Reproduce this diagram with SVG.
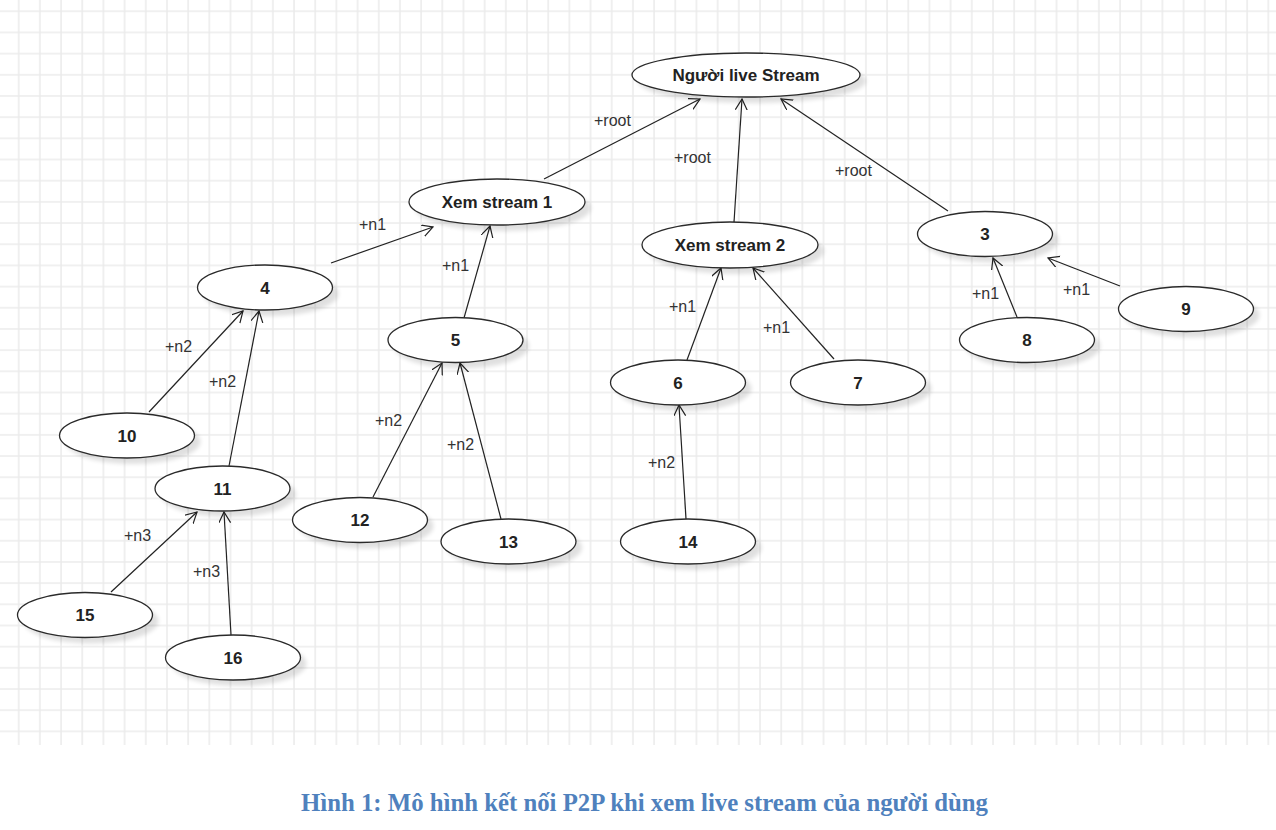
<svg xmlns="http://www.w3.org/2000/svg" width="1276" height="830" viewBox="0 0 1276 830">
<defs>
<pattern id="grid" patternUnits="userSpaceOnUse" x="17.7" y="10.3" width="21.18" height="21.18">
<path d="M1 0 V21.18 M0 1 H21.18" stroke="#ebebeb" stroke-width="1.5" fill="none"/>
</pattern>
<filter id="blur" x="-20%" y="-40%" width="140%" height="180%">
<feGaussianBlur stdDeviation="2"/>
</filter>
<marker id="arr" markerUnits="userSpaceOnUse" markerWidth="14" markerHeight="14" refX="11" refY="6" orient="auto">
<path d="M0,0 L11,6 L0,12" fill="none" stroke="#222" stroke-width="1.2"/>
</marker>
</defs>
<style>
.node ellipse.body{fill:#fff;stroke:#2a2a2a;stroke-width:1.3}
.node ellipse.shadow{fill:#000;opacity:0.12;filter:url(#blur)}
.node text{font-family:"Liberation Sans",Arial,sans-serif;font-weight:bold;font-size:17px;fill:#222;text-anchor:middle}
.edges line{stroke:#222;stroke-width:1.2;marker-end:url(#arr)}
.lbl{font-family:"Liberation Sans",Arial,sans-serif;font-size:16px;fill:#333}
.caption{font-family:"Liberation Serif","Times New Roman",serif;font-weight:bold;font-size:25px;fill:#4f81bd}
</style>
<rect x="0" y="0" width="1276" height="830" fill="#fff"/>
<rect x="0" y="0" width="1276" height="745" fill="url(#grid)"/>

<g id="edges" class="edges">
<line x1="544" y1="179" x2="700" y2="99"/>
<line x1="734" y1="222" x2="742" y2="99"/>
<line x1="948" y1="211" x2="781" y2="99"/>
<line x1="331" y1="263" x2="433" y2="227"/>
<line x1="464" y1="318" x2="490" y2="226"/>
<line x1="687" y1="360" x2="721" y2="268"/>
<line x1="834" y1="359" x2="753" y2="268"/>
<line x1="1017" y1="317" x2="993" y2="258"/>
<line x1="1120" y1="286" x2="1048" y2="258"/>
<line x1="149" y1="412" x2="243" y2="311"/>
<line x1="229" y1="466" x2="259" y2="311"/>
<line x1="373" y1="497" x2="442" y2="363"/>
<line x1="501" y1="519" x2="460" y2="363"/>
<line x1="686" y1="519" x2="679" y2="405"/>
<line x1="111" y1="592" x2="197" y2="512"/>
<line x1="231" y1="635" x2="224" y2="512"/>
</g>

<g id="edge-labels">
<text class="lbl" x="594" y="126">+root</text>
<text class="lbl" x="674" y="163">+root</text>
<text class="lbl" x="835" y="176">+root</text>
<text class="lbl" x="359" y="230">+n1</text>
<text class="lbl" x="442" y="271">+n1</text>
<text class="lbl" x="669" y="312">+n1</text>
<text class="lbl" x="763" y="333">+n1</text>
<text class="lbl" x="972" y="299">+n1</text>
<text class="lbl" x="1063" y="295">+n1</text>
<text class="lbl" x="165" y="352">+n2</text>
<text class="lbl" x="209" y="387">+n2</text>
<text class="lbl" x="375" y="426">+n2</text>
<text class="lbl" x="447" y="450">+n2</text>
<text class="lbl" x="648" y="468">+n2</text>
<text class="lbl" x="124" y="541">+n3</text>
<text class="lbl" x="193" y="577">+n3</text>
</g>

<g id="node-root" class="node"><ellipse class="shadow" cx="752" cy="81" rx="114" ry="22"/><ellipse class="body" cx="746" cy="75" rx="114" ry="22"/><text x="746" y="81">Người live Stream</text></g>
<g id="node-xs1" class="node"><ellipse class="shadow" cx="503" cy="208" rx="88" ry="23"/><ellipse class="body" cx="497" cy="202" rx="88" ry="23"/><text x="497" y="208">Xem stream 1</text></g>
<g id="node-xs2" class="node"><ellipse class="shadow" cx="736" cy="251" rx="88" ry="23"/><ellipse class="body" cx="730" cy="245" rx="88" ry="23"/><text x="730" y="251">Xem stream 2</text></g>
<g id="node-3" class="node"><ellipse class="shadow" cx="991" cy="240" rx="67.5" ry="22.5"/><ellipse class="body" cx="985" cy="234" rx="67.5" ry="22.5"/><text x="985" y="240">3</text></g>
<g id="node-4" class="node"><ellipse class="shadow" cx="271" cy="293.5" rx="67.5" ry="22.5"/><ellipse class="body" cx="265" cy="287.5" rx="67.5" ry="22.5"/><text x="265" y="293.5">4</text></g>
<g id="node-5" class="node"><ellipse class="shadow" cx="461.5" cy="346" rx="67.5" ry="22.5"/><ellipse class="body" cx="455.5" cy="340" rx="67.5" ry="22.5"/><text x="455.5" y="346">5</text></g>
<g id="node-6" class="node"><ellipse class="shadow" cx="684" cy="388.5" rx="67.5" ry="22.5"/><ellipse class="body" cx="678" cy="382.5" rx="67.5" ry="22.5"/><text x="678" y="388.5">6</text></g>
<g id="node-7" class="node"><ellipse class="shadow" cx="864" cy="388.5" rx="67.5" ry="22.5"/><ellipse class="body" cx="858" cy="382.5" rx="67.5" ry="22.5"/><text x="858" y="388.5">7</text></g>
<g id="node-8" class="node"><ellipse class="shadow" cx="1033" cy="346" rx="67.5" ry="22.5"/><ellipse class="body" cx="1027" cy="340" rx="67.5" ry="22.5"/><text x="1027" y="346">8</text></g>
<g id="node-9" class="node"><ellipse class="shadow" cx="1192" cy="315" rx="67.5" ry="22.5"/><ellipse class="body" cx="1186" cy="309" rx="67.5" ry="22.5"/><text x="1186" y="315">9</text></g>
<g id="node-10" class="node"><ellipse class="shadow" cx="133" cy="441.5" rx="67.5" ry="22.5"/><ellipse class="body" cx="127" cy="435.5" rx="67.5" ry="22.5"/><text x="127" y="441.5">10</text></g>
<g id="node-11" class="node"><ellipse class="shadow" cx="228.5" cy="494.5" rx="67.5" ry="22.5"/><ellipse class="body" cx="222.5" cy="488.5" rx="67.5" ry="22.5"/><text x="222.5" y="494.5">11</text></g>
<g id="node-12" class="node"><ellipse class="shadow" cx="366" cy="526" rx="67.5" ry="22.5"/><ellipse class="body" cx="360" cy="520" rx="67.5" ry="22.5"/><text x="360" y="526">12</text></g>
<g id="node-13" class="node"><ellipse class="shadow" cx="514.5" cy="547.5" rx="67.5" ry="22.5"/><ellipse class="body" cx="508.5" cy="541.5" rx="67.5" ry="22.5"/><text x="508.5" y="547.5">13</text></g>
<g id="node-14" class="node"><ellipse class="shadow" cx="694" cy="547.5" rx="67.5" ry="22.5"/><ellipse class="body" cx="688" cy="541.5" rx="67.5" ry="22.5"/><text x="688" y="547.5">14</text></g>
<g id="node-15" class="node"><ellipse class="shadow" cx="91" cy="621" rx="67.5" ry="22.5"/><ellipse class="body" cx="85" cy="615" rx="67.5" ry="22.5"/><text x="85" y="621">15</text></g>
<g id="node-16" class="node"><ellipse class="shadow" cx="239" cy="663.5" rx="67.5" ry="22.5"/><ellipse class="body" cx="233" cy="657.5" rx="67.5" ry="22.5"/><text x="233" y="663.5">16</text></g>

<text class="caption" x="301" y="811" textLength="687" lengthAdjust="spacingAndGlyphs">Hình 1: Mô hình kết nối P2P khi xem live stream của người dùng</text>
</svg>
